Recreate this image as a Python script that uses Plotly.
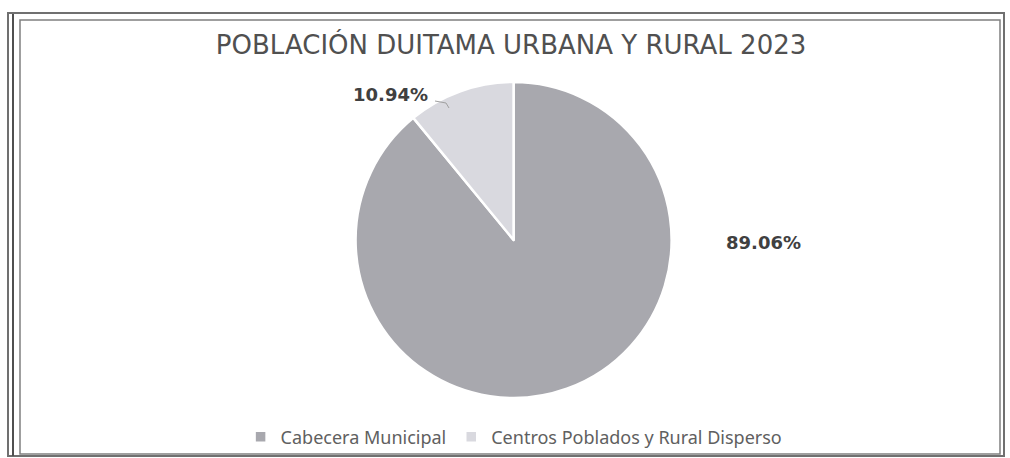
import plotly.graph_objects as go

categories = ["Cabecera Municipal", "Centros Poblados y Rural Disperso"]
values = [89.06, 10.94]
colors = ["#a8a8ae", "#d9d9df"]
title_text = "POBLACIÓN DUITAMA URBANA Y RURAL 2023"

W, H = 1010, 458
fig = go.Figure()
fig.add_trace(go.Pie(
    labels=categories, values=values, sort=False, direction="clockwise", rotation=0,
    marker=dict(colors=colors, line=dict(color="white", width=2.5)),
    textinfo="none", hoverinfo="label+percent",
    domain=dict(x=[0.352, 0.665], y=[0.131, 0.821]),
    showlegend=True,
))

# data labels (text from values)
label_pos = [(763 / W, 1 - 243 / H), (390 / W, 1 - 95 / H)]
for v, (x, y) in zip(values, label_pos):
    fig.add_annotation(x=x, y=y, xref="paper", yref="paper", text=f"<b>{v:.2f}%</b>",
                       xanchor="center", yanchor="middle",
                       showarrow=False, font=dict(family="DejaVu Sans", size=18, color="#404040"))
# leader line for small slice
fig.add_shape(type="path", xref="paper", yref="paper",
              path=f"M {435/W} {1-101/H} L {446/W} {1-103/H} L {449/W} {1-108/H}",
              line=dict(color="#a0a0a0", width=1))

# frames
fig.add_shape(type="rect", xref="paper", yref="paper", x0=8/W, x1=1004/W, y0=1-456/H, y1=1-13/H,
              line=dict(color="#707070", width=2))
fig.add_shape(type="rect", xref="paper", yref="paper", x0=20/W, x1=1000/W, y0=1-454/H, y1=1-20/H,
              line=dict(color="#808080", width=1.5))
fig.add_shape(type="line", xref="paper", yref="paper", x0=13/W, x1=13/W, y0=1-456/H, y1=1-14/H,
              line=dict(color="#505050", width=2))

fig.update_layout(
    width=W, height=H, margin=dict(l=0, r=0, t=0, b=0),
    paper_bgcolor="white", plot_bgcolor="white",
    title=dict(text=title_text, x=0.506, xanchor="center", y=1-45/H, yanchor="middle",
               font=dict(family="DejaVu Sans", size=26, color="#505050")),
    legend=dict(orientation="h", x=0.509, xanchor="center", y=1-437/H, yanchor="middle",
                font=dict(family="Noto Sans", size=18, color="#606060"),
                bgcolor="rgba(0,0,0,0)", itemwidth=30, traceorder="normal"),
)
fig.write_html("out.html", config={"displayModeBar": False},
               post_script="document.body.style.margin='0';")
